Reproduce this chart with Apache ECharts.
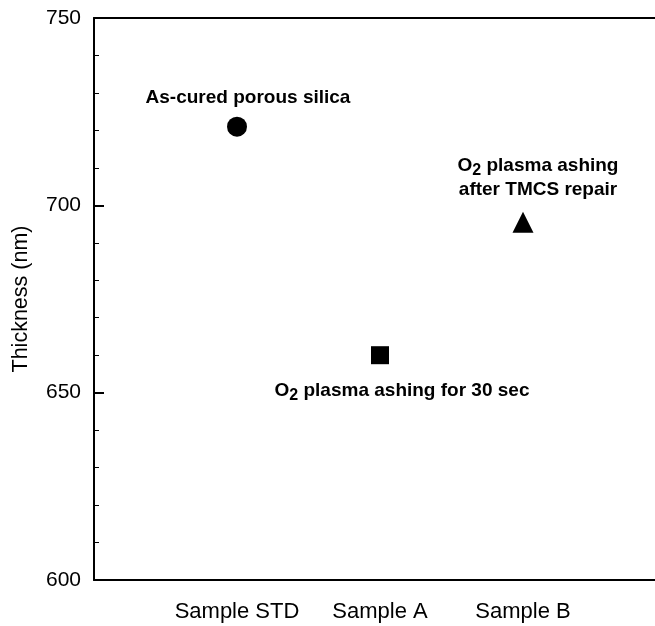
<!DOCTYPE html>
<html>
<head>
<meta charset="utf-8">
<script src="https://cdn.jsdelivr.net/npm/echarts@6/dist/echarts.min.js"></script>
<style>
  html, body { margin: 0; padding: 0; background: #fff; }
  #chart { width: 655px; height: 626px; }
</style>
</head>
<body>
<div id="chart"></div>
<script>
// Film thickness per sample
const samples = ['Sample STD', 'Sample A', 'Sample B'];
const thickness = [721, 660, 695.5];
const yTicks = [600, 650, 700, 750];

// Annotation text (rich-text markup, O{sub|2} = O₂)
const notes = [
  '{b|As-cured porous silica}',
  '{b|O}{sub|2}{b| plasma ashing for 30 sec}',
  '{b|O}{sub|2}{b| plasma ashing}\n{b|after TMCS repair}'
];

const symbols = ['circle', 'rect', 'triangle'];
const symbolSizes = [20, 18, 21];
const labelOffsets = [[11, -29], [22, 36], [15, -44]];

const FONT = '"Liberation Sans", Arial, sans-serif';
const rich = {
  b: { fontFamily: FONT, fontWeight: 'bold', fontSize: 19, color: '#000', lineHeight: 24 },
  sub: { fontFamily: FONT, fontWeight: 'bold', fontSize: 16, color: '#000', lineHeight: 14, padding: [10, 0, 0, 0], verticalAlign: 'bottom' }
};

const chart = echarts.init(document.getElementById('chart'), null, { renderer: 'canvas' });

const data = samples.map((s, i) => ({
  name: s,
  value: [i + 1, thickness[i]],
  symbol: symbols[i],
  symbolSize: symbolSizes[i],
  label: {
    show: true,
    position: 'inside',
    offset: labelOffsets[i],
    formatter: notes[i],
    rich: rich,
    align: 'center'
  }
}));

chart.setOption({
  animation: false,
  backgroundColor: '#fff',
  grid: { left: 94, top: 18, width: 572, height: 562, containLabel: false, outerBoundsMode: 'none' },
  xAxis: [
    {
      type: 'value', min: 0, max: 4, interval: 1,
      axisLine: { lineStyle: { color: '#000', width: 2 } },
      axisTick: { show: false },
      splitLine: { show: false },
      axisLabel: {
        fontFamily: FONT, fontSize: 22, color: '#000', margin: 21,
        formatter: v => samples[v - 1] || ''
      }
    },
    {
      type: 'value', position: 'top', min: 0, max: 4, interval: 1,
      axisLine: { show: true, lineStyle: { color: '#000', width: 2 } },
      axisTick: { show: false }, axisLabel: { show: false }, splitLine: { show: false }
    }
  ],
  yAxis: {
    type: 'value', min: yTicks[0], max: yTicks[yTicks.length - 1], interval: yTicks[1] - yTicks[0],
    name: 'Thickness (nm)', nameLocation: 'middle', nameGap: 62,
    nameTextStyle: { fontFamily: FONT, fontSize: 21.5, color: '#000' },
    axisLine: { show: true, lineStyle: { color: '#000', width: 2 } },
    axisTick: { show: true, inside: true, length: 10, lineStyle: { color: '#000', width: 2 } },
    minorTick: { show: true, splitNumber: 5, length: 5, lineStyle: { color: '#000', width: 1 } },
    splitLine: { show: false },
    axisLabel: { fontFamily: FONT, fontSize: 21, color: '#000', margin: 13 }
  },
  series: [{
    type: 'scatter',
    data: data,
    itemStyle: { color: '#000', opacity: 1 }
  }]
});
</script>
</body>
</html>
